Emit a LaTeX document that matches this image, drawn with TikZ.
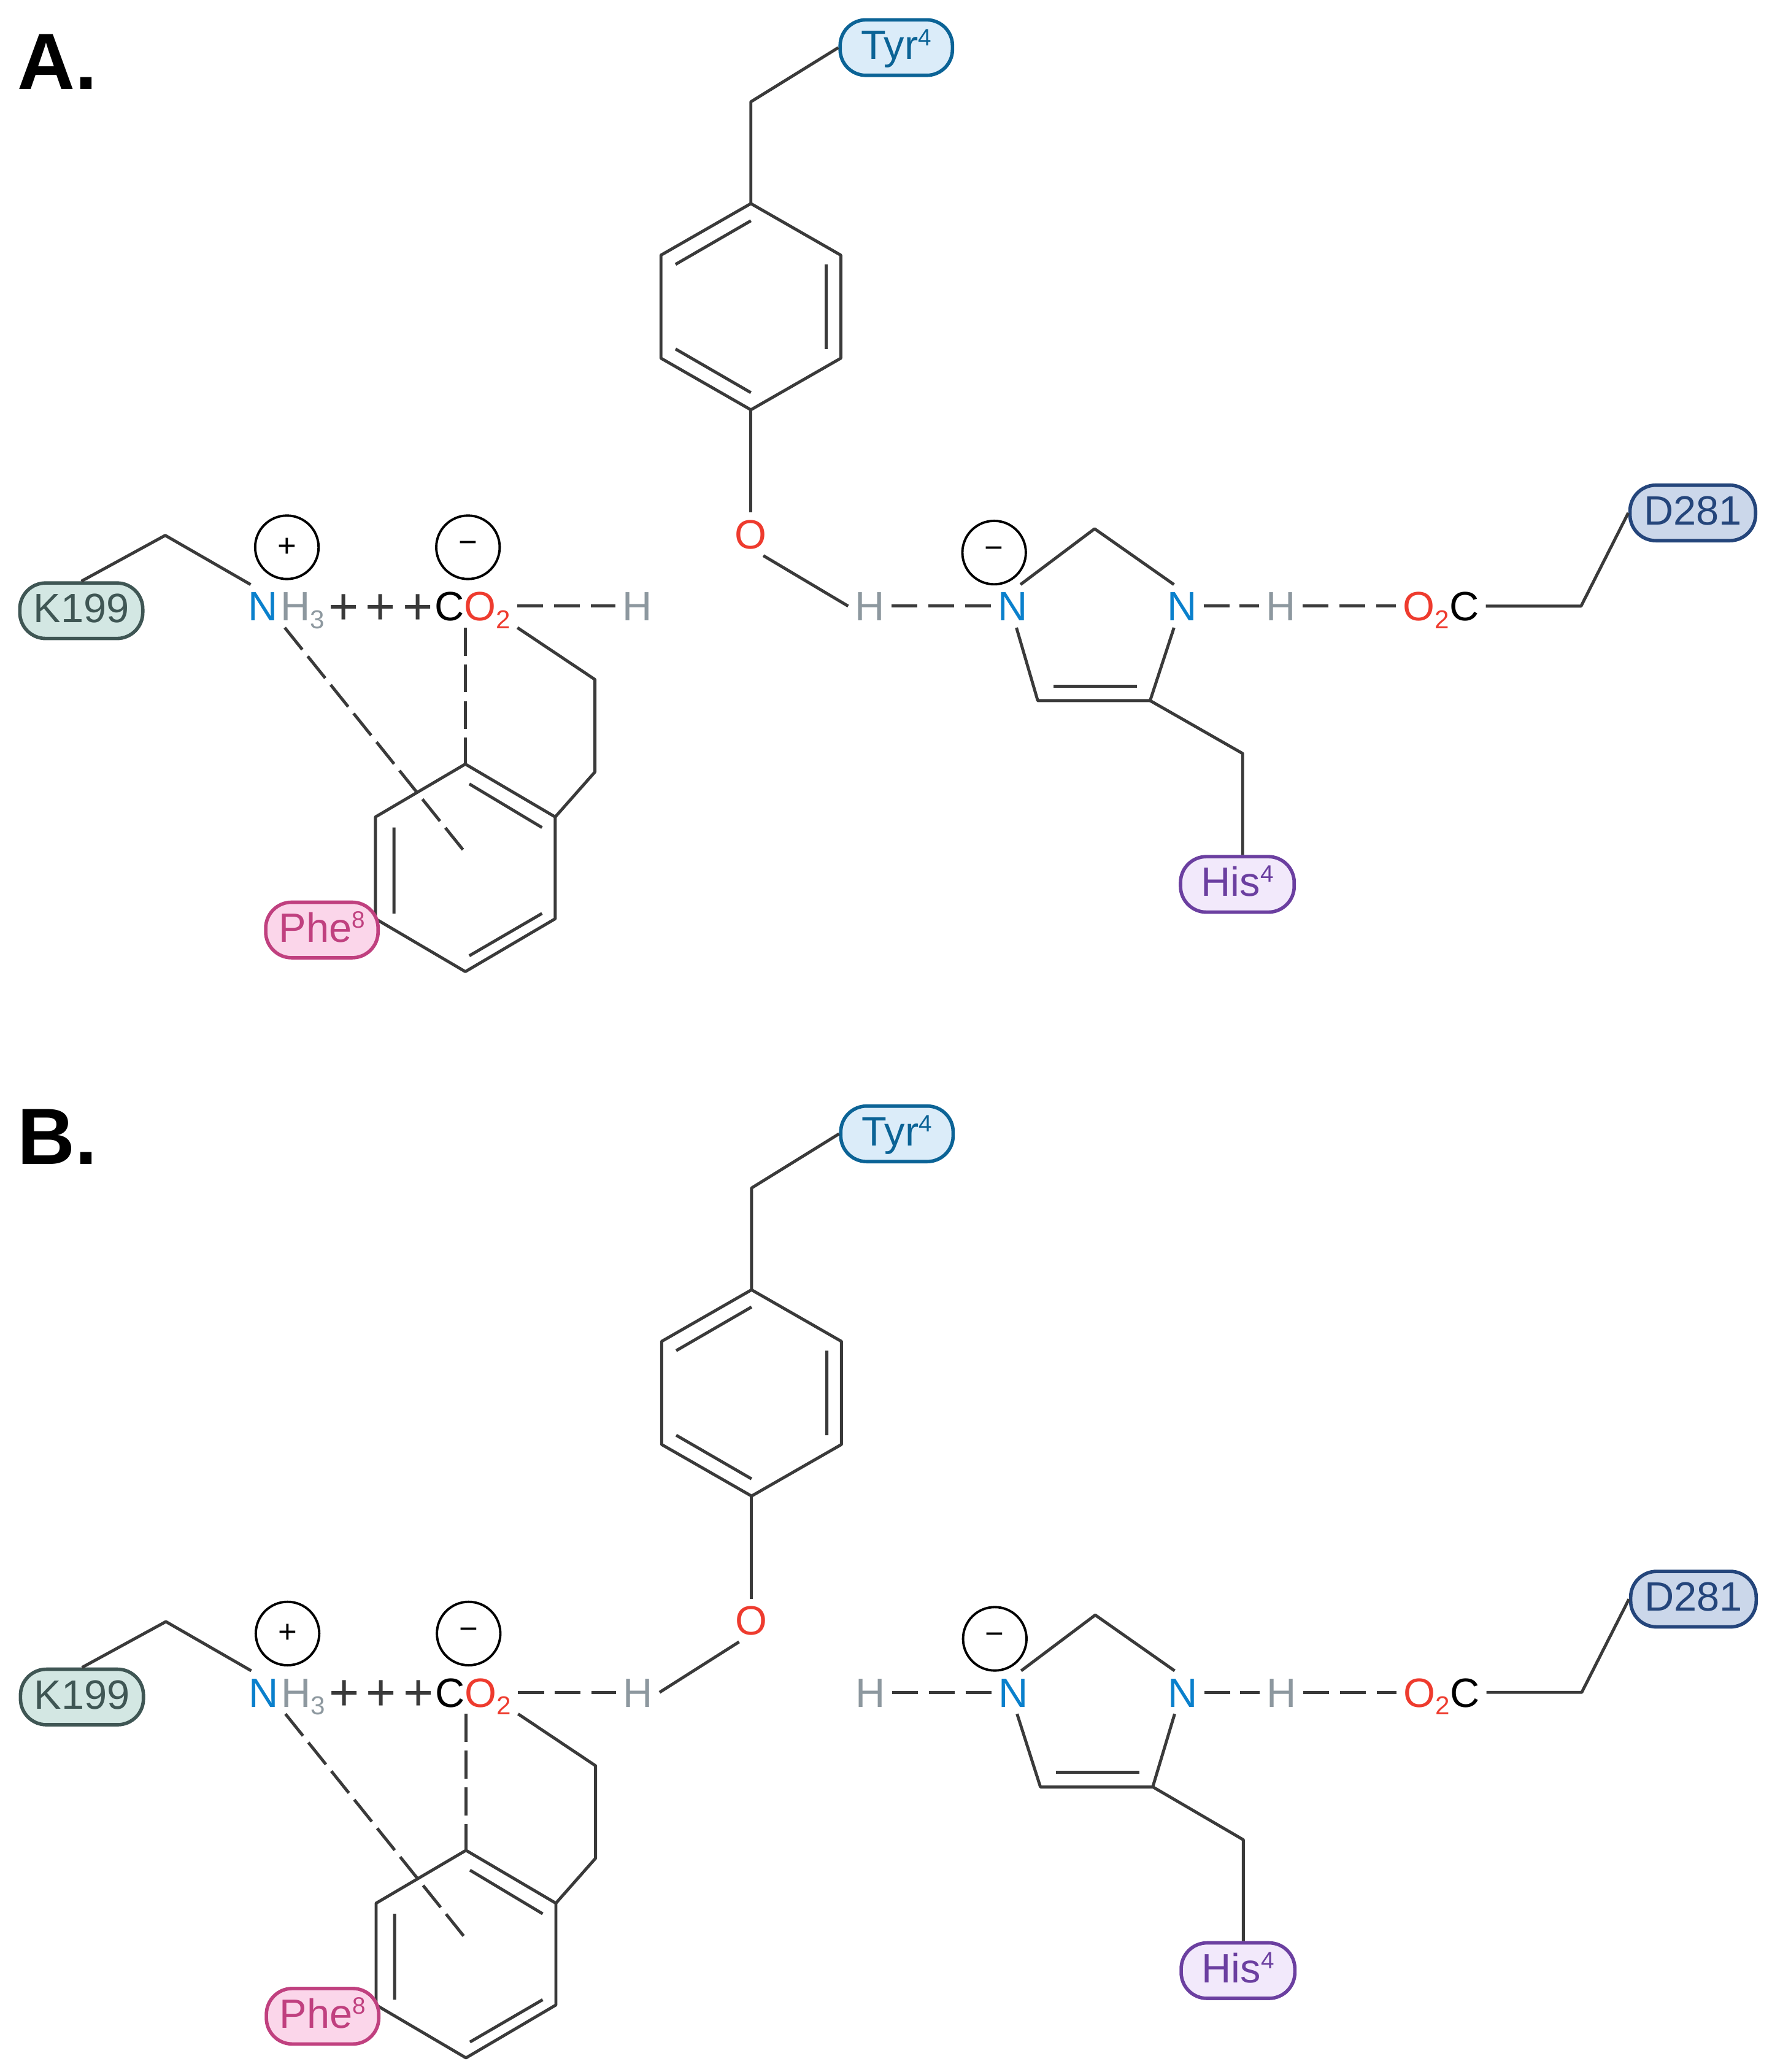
\documentclass[tikz,border=0pt]{standalone}
\usepackage{fontspec}
\setmainfont{Liberation Sans}
\usetikzlibrary{calc}
\definecolor{bondc}{HTML}{3A3A3A}
\definecolor{nblue}{HTML}{0A80CC}
\definecolor{ored}{HTML}{EE3B2E}
\definecolor{hgray}{HTML}{8D989F}
\definecolor{tyrl}{HTML}{0B6396}\definecolor{tyrf}{HTML}{DBECF9}
\definecolor{lysl}{HTML}{3F5654}\definecolor{lysf}{HTML}{D3E7E3}
\definecolor{phel}{HTML}{C0407F}\definecolor{phef}{HTML}{FBD6EA}
\definecolor{hisl}{HTML}{6B3FA0}\definecolor{hisf}{HTML}{F2E9FB}
\definecolor{aspl}{HTML}{24457B}\definecolor{aspf}{HTML}{CBD7EA}
\newcommand{\subn}[1]{\raisebox{-3.5pt}[0pt][0pt]{\fontsize{12}{12}\selectfont #1}}
\newcommand{\supn}[1]{\raisebox{6.5pt}[0pt][0pt]{\fontsize{11}{11}\selectfont #1}}
\newlength{\ux}\setlength{\ux}{0.021545cm}
\tikzset{
  bond/.style={draw=bondc,line width=1.4pt,line join=round},
  hbond/.style={bond,dash pattern=on 12pt off 5pt},
  lbond/.style={bond,dash pattern=on 13pt off 4pt},
  atom/.style={inner sep=3pt,font=\fontsize{19}{19}\selectfont,text height=13.6pt,text depth=0pt},
  charge/.style={circle,draw=black,line width=1.1pt,fill=white,minimum size=48\ux,inner sep=0pt,font=\fontsize{15}{15}\selectfont},
  plusmark/.style={inner sep=0pt,text=bondc,font=\fontsize{24}{24}\selectfont},
  pill/.style n args={3}{rounded corners=12pt,draw=#1,fill=#2,text=#1,line width=1.6pt,inner sep=0pt,minimum width=#3\ux,minimum height=42\ux,font=\fontsize{19}{19}\selectfont,text height=11pt,text depth=0pt},
  panellabel/.style={anchor=west,inner sep=0pt,font=\fontsize{37}{37}\selectfont\bfseries},
}
\newcommand{\molecule}[1]{%
  % Tyrosine side chain
  \node[pill={tyrl}{tyrf}{85}] (tyr) at (678,36) {Tyr\supn{4}};
  \coordinate (t1) at (568,77);
  \coordinate (r1) at (568,154); \coordinate (r2) at (636,193); \coordinate (r3) at (636,271);
  \coordinate (r4) at (568,310); \coordinate (r5) at (500,271); \coordinate (r6) at (500,193);
  \node[atom,text=ored] (O) at (568,404) {O};
  \draw[bond] (tyr.west) -- (t1) -- (r1);
  \draw[bond] (r1) -- (r2) -- (r3) -- (r4) -- (r5) -- (r6) -- cycle;
  \draw[bond] (568,167) -- (511,200) (625,200) -- (625,264) (568,297) -- (511,264);
  \draw[bond] (r4) -- (O.north);
  % Lys199 and carboxylate
  \node[pill={lysl}{lysf}{93}] (k199) at (61.5,462) {K199};
  \coordinate (k1) at (125,405);
  \node[atom,text=nblue] (nk) at (199,458.5) {N};
  \node[atom,text=hgray] (h3) at (229,458.5) {H\subn{3}};
  \node[charge] (cplus) at (217,414) {+};
  \node[charge] (cminus) at (354,414) {−};
  \node[plusmark] (p1) at (260,461) {+};
  \node[plusmark] (p2) at (288,461) {+};
  \node[plusmark] (p3) at (316,461) {+};
  \node[atom] (co2) at (357.5,458.5) {C\textcolor{ored}{O\subn{2}}};
  \node[atom,text=hgray] (hl) at (482,458.5) {H};
  \draw[bond] (k199.north) -- (k1) -- (nk.120);
  \draw[hbond] (co2.east) -- (hl.west);
  % Phe8 ring
  \coordinate (p) at (352,645);
  \coordinate (f1) at (352,578); \coordinate (f2) at (420,618); \coordinate (f3) at (420,695);
  \coordinate (f4) at (352,735); \coordinate (f5) at (284,695); \coordinate (f6) at (284,618);
  \coordinate (c1) at (450,514); \coordinate (c2) at (450,584);
  \draw[bond] (f1) -- (f2) -- (f3) -- (f4) -- (f5) -- (f6) -- cycle;
  \draw[bond] (355,593) -- (410,626) (410,691) -- (355,723) (298,691) -- (298,626);
  \draw[lbond] (f1 |- co2.south) -- (f1);
  \draw[lbond] (nk.south east) -- (p);
  \draw[bond] (co2.south east) -- (c1) -- (c2) -- (f2);
  \node[pill={phel}{phef}{85}] (phe) at (243.5,703.5) {Phe\supn{8}};
  % Imidazole and Asp281
  \node[atom,text=hgray] (h1) at (658,458.5) {H};
  \node[atom,text=nblue] (n1) at (766,458.5) {N};
  \node[atom,text=nblue] (n2) at (894,458.5) {N};
  \node[atom,text=hgray] (h2) at (969,458.5) {H};
  \node[atom] (o2c) at (1090,458.5) {\textcolor{ored}{O\subn{2}}C};
  \node[charge] (cim) at (752,418) {−};
  \coordinate (i1) at (828,400);
  \coordinate (i2) at (870+#1,530);
  \coordinate (i3) at (785+#1,530);
  \coordinate (i4) at (940,570);
  \coordinate (d1) at (1196,458.5);
  \node[pill={hisl}{hisf}{86}] (his) at (936,669) {His\supn{4}};
  \node[pill={aspl}{aspf}{95}] (d281) at (1280.5,388) {D281};
  \draw[bond] (n1.70) -- (i1) -- (n2.110);
  \draw[bond] (n2.-110) -- (i2) -- (i3) -- (n1.-80);
  \draw[bond] (797+#1,519) -- (860+#1,519);
  \draw[bond] (i2) -- (i4) -- (i4 |- his.north);
  \draw[hbond] (h1.east) -- (n1.west);
  \draw[bond,dash pattern=on 12pt off 4.5pt] (n2.east) -- (h2.west);
  \draw[hbond] (h2.east) -- (o2c.west);
  \draw[bond] (o2c.east) -- (d1) -- (d281.west);
}
\begin{document}
\begin{tikzpicture}[x=0.021545cm,y=-0.021545cm]
  \useasboundingbox (0,0) rectangle (1340,1567.4);
  \node[panellabel] (labelA) at (13,47) {A.};
  \node[panellabel] (labelB) at (13,860) {B.};
  \begin{scope}[name prefix=a-]
    \molecule{0}
    \draw[bond] (O.-60) -- (h1.west);
  \end{scope}
  \begin{scope}[name prefix=b-,shift={(0.5,821.7)}]
    \molecule{1.5}
    \draw[bond] (O.-120) -- (hl.east);
  \end{scope}
\end{tikzpicture}
\end{document}
